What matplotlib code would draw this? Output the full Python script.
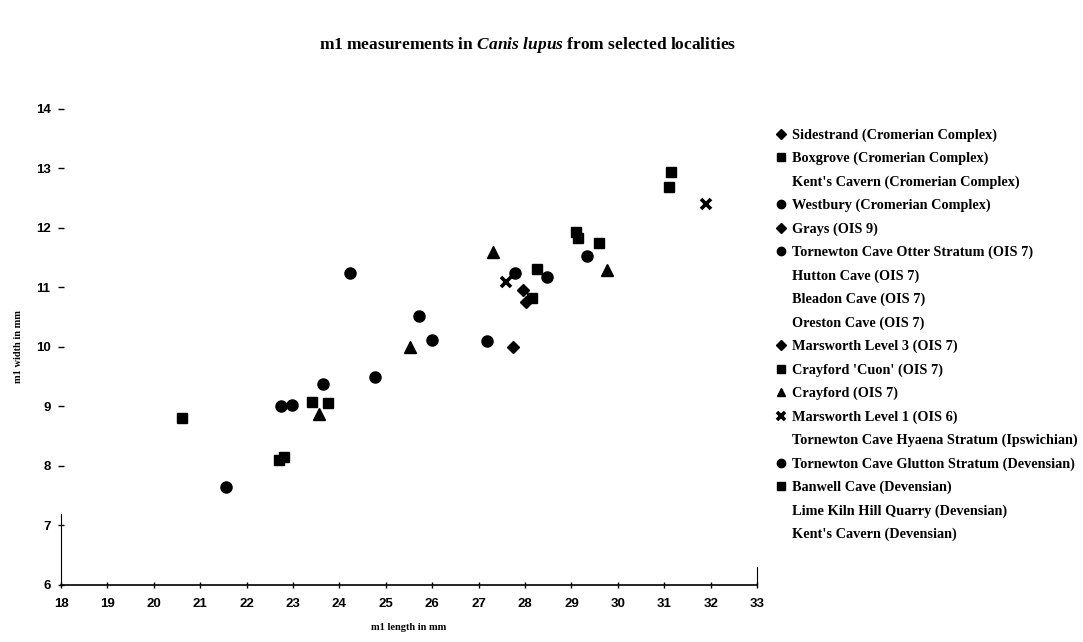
import matplotlib
matplotlib.use("Agg")
import matplotlib.pyplot as plt

# m1 length / width (mm) per locality
sidestrand_x = [27.74]
sidestrand_y = [10.0]
boxgrove_x = [31.14, 31.1]
boxgrove_y = [12.94, 12.69]
westbury_x = [29.33, 28.47]
westbury_y = [11.53, 11.18]
grays_x = [27.96]
grays_y = [10.96]
otter_x = [27.78]
otter_y = [11.24]
marsworth3_x = [28.02]
marsworth3_y = [10.76]
cuon_x = [20.6]
cuon_y = [8.81]
crayford_x = [23.57, 25.53, 27.31, 29.76]
crayford_y = [8.87, 10.0, 11.6, 11.29]
marsworth1_x = [27.6, 31.91]
marsworth1_y = [11.09, 12.4]
glutton_x = [21.55, 22.75, 22.97, 23.65, 24.22, 24.77, 25.72, 26.0, 27.18]
glutton_y = [7.65, 9.01, 9.03, 9.38, 11.24, 9.5, 10.52, 10.12, 10.1]
banwell_x = [22.7, 22.8, 23.4, 23.76, 28.26, 29.1, 29.14, 29.6, 28.15]
banwell_y = [8.1, 8.15, 9.08, 9.06, 11.31, 11.92, 11.83, 11.75, 10.82]

x_ticks = list(range(18, 34))
y_ticks = list(range(6, 15))

# (label, x, y, marker) - empty lists for localities with no plotted point
series = [
    ("Sidestrand (Cromerian Complex)", sidestrand_x, sidestrand_y, "D"),
    ("Boxgrove (Cromerian Complex)", boxgrove_x, boxgrove_y, "s"),
    ("Kent's Cavern (Cromerian Complex)", [], [], None),
    ("Westbury (Cromerian Complex)", westbury_x, westbury_y, "o"),
    ("Grays (OIS 9)", grays_x, grays_y, "D"),
    ("Tornewton Cave Otter Stratum (OIS 7)", otter_x, otter_y, "o"),
    ("Hutton Cave (OIS 7)", [], [], None),
    ("Bleadon Cave (OIS 7)", [], [], None),
    ("Oreston Cave (OIS 7)", [], [], None),
    ("Marsworth Level 3 (OIS 7)", marsworth3_x, marsworth3_y, "D"),
    ("Crayford 'Cuon' (OIS 7)", cuon_x, cuon_y, "s"),
    ("Crayford (OIS 7)", crayford_x, crayford_y, "^"),
    ("Marsworth Level 1 (OIS 6)", marsworth1_x, marsworth1_y, "x"),
    ("Tornewton Cave Hyaena Stratum (Ipswichian)", [], [], None),
    ("Tornewton Cave Glutton Stratum (Devensian)", glutton_x, glutton_y, "o"),
    ("Banwell Cave (Devensian)", banwell_x, banwell_y, "s"),
    ("Lime Kiln Hill Quarry (Devensian)", [], [], None),
    ("Kent's Cavern (Devensian)", [], [], None),
]

sizes = {"o": 8, "s": 7, "D": 6.5, "^": 8.5, "x": 7}

plt.rcParams['font.family'] = ['Liberation Serif', 'DejaVu Serif']
plt.rcParams['mathtext.fontset'] = 'custom'
plt.rcParams['mathtext.it'] = 'Liberation Serif:italic:bold'
plt.rcParams['mathtext.rm'] = 'Liberation Serif'

fig = plt.figure(figsize=(10.83, 6.42), dpi=100)
ax = fig.add_axes([0.0563, 0.0888, 0.6427, 0.742])

for label, xs, ys, m in series:
    if m is None:
        ax.plot(xs, ys, linestyle='none', marker='None', label=label)
    elif m == "x":
        ax.plot(xs, ys, linestyle='none', marker=m, color='black',
                markersize=sizes[m], markeredgewidth=2.6, label=label)
    else:
        ax.plot(xs, ys, linestyle='none', marker=m, color='black',
                markersize=sizes[m], label=label)

ax.set_xlim(18, 33)
ax.set_ylim(6, 14)
ax.set_xticks(x_ticks)
ax.set_yticks(y_ticks)

sans = ['Liberation Sans', 'DejaVu Sans']
for t in ax.get_xticklabels() + ax.get_yticklabels():
    t.set_family(sans)
    t.set_fontweight('bold')
    t.set_fontsize(9.5)

ax.tick_params(axis='x', direction='inout', length=5, width=1, pad=7)
ax.tick_params(axis='y', direction='inout', length=5, width=1, pad=5)

ax.spines['top'].set_visible(False)
ax.spines['left'].set_bounds(6, 7.2)
ax.spines['right'].set_bounds(6, 6.3)
ax.spines['bottom'].set_linewidth(1.2)

ax.set_xlabel("m1 length in mm", fontsize=7.5, fontweight='bold', labelpad=9)
ax.set_ylabel("m1 width in mm", fontsize=7.5, fontweight='bold', labelpad=9)

fig.text(0.487, 0.93, r"m1 measurements in $\it{Canis\ lupus}$ from selected localities",
         ha='center', va='center', fontsize=12.5, fontweight='bold')

ax.legend(loc='upper left', bbox_to_anchor=(0.715, 0.80),
          bbox_transform=fig.transFigure, frameon=False,
          prop={'weight': 'bold', 'size': 10.3}, handlelength=0.9,
          handletextpad=0.3, labelspacing=0.70, borderpad=0, borderaxespad=0,
          markerscale=0.75)

fig.savefig("out.png", dpi=100)
